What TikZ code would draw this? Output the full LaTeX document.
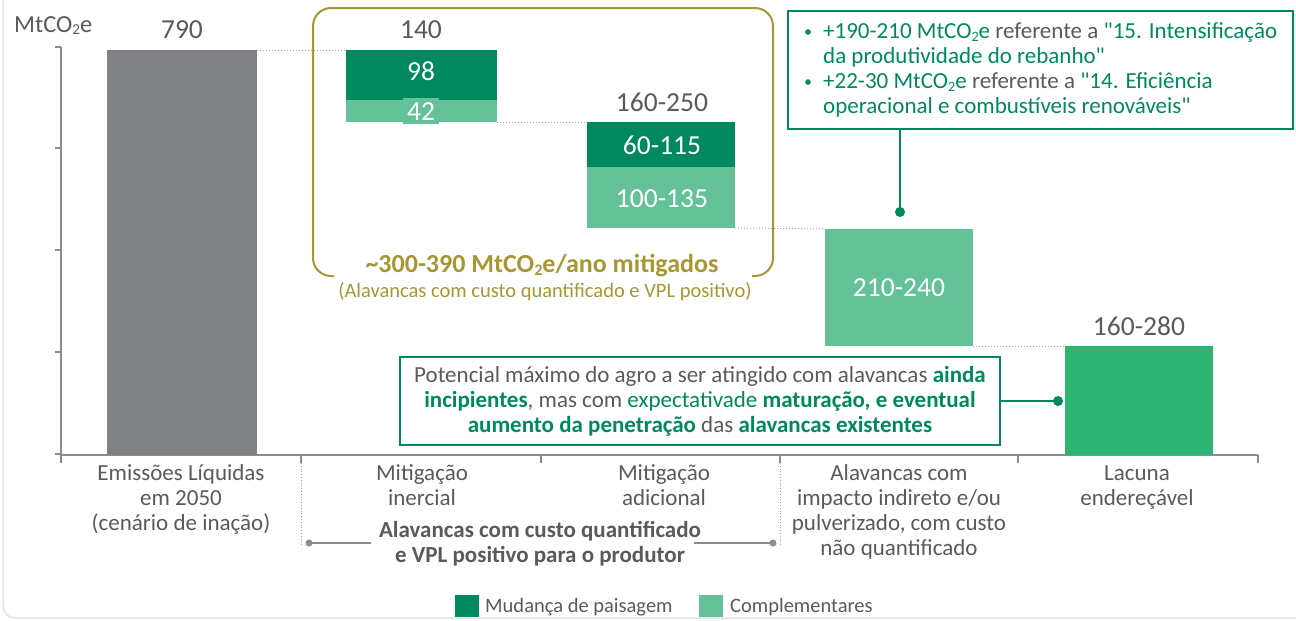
\documentclass[tikz,border=0pt]{standalone}
\usepackage{fontspec}
\setmainfont{Carlito}[Ligatures=TeXOff]
\usepackage{graphicx}
\usetikzlibrary{calc}
\definecolor{dgreen}{HTML}{00895E}
\definecolor{lgreen}{HTML}{65C298}
\definecolor{bgreen}{HTML}{2DB473}
\definecolor{barGray}{HTML}{808184}
\definecolor{olive}{HTML}{A69634}
\definecolor{txt}{HTML}{5A5A5A}
\definecolor{axisgray}{HTML}{8C8C8C}
\definecolor{dotgray}{HTML}{A6A6A6}
\definecolor{framegray}{HTML}{E3E3E3}
\newcommand{\mysub}[1]{\raisebox{-0.12em}{\scalebox{0.62}{#1}}}
\newcommand{\coe}{MtCO\mysub{2}e}
\newcommand{\fs}[1]{\fontsize{#1}{25}\selectfont}
\newcommand{\tstr}{\rule{0pt}{20pt}}
\newcommand{\gb}[1]{\textbf{\color{dgreen}#1}}
\newcommand{\gt}[1]{{\color{txt}#1}}
\begin{document}
\begin{tikzpicture}[x=1pt,y=-1pt,
  barbox/.style={rectangle,inner sep=0,outer sep=0,draw=none,anchor=north west},
  val/.style={anchor=base,font=\fs{27.5},text=txt,inner sep=0},
  wval/.style={anchor=base,font=\fs{27.5},text=white,inner sep=0},
  dotline/.style={dotgray,line width=1pt,dotted},
  axisline/.style={axisgray,line width=1.6pt},
  catlabel/.style={anchor=north,align=center,inner sep=0,font=\fs{23},text=txt},
  greenline/.style={dgreen,line width=2.2pt},
  trline/.style={anchor=base west,inner sep=0,font=\fs{23},text=dgreen},
  brk/.style={axisgray,line width=1.6pt},
  legbox/.style={rectangle,inner sep=0,outer sep=0,anchor=north west,minimum width=24,minimum height=22},
  legtext/.style={anchor=base west,inner sep=0,font=\fs{20.5},text=txt}]
\useasboundingbox (0,0) rectangle (1296,621);
% outer frame
\draw[framegray,line width=1.5pt,rounded corners=12pt] (3,-5) -- (3,618) -- (1300,618);

% axes
\draw[axisline] (61,47) -- (61,455) -- (1258,455);
\foreach \yy in {47,148,250,352,454} \draw[axisline] (55,\yy) -- (61,\yy);
\foreach \xx in {61,301,541,780,1018,1258} \draw[axisline] (\xx,455) -- (\xx,463);

% unit
\node[anchor=base west,inner sep=0,font=\fs{24.5},text=txt] (unit) at (14,32) {\coe};

% bars
\node[barbox,fill=barGray,minimum width=150,minimum height=405] (b790) at (107,50) {};
\node[barbox,fill=dgreen,minimum width=151,minimum height=50] (b98) at (346,50) {};
\node[barbox,fill=lgreen,minimum width=151,minimum height=22] (b42) at (346,100) {};
\node[barbox,fill=dgreen,minimum width=148,minimum height=45] (b60) at (587,122) {};
\node[barbox,fill=lgreen,minimum width=148,minimum height=61] (b100) at (587,167) {};
\node[barbox,fill=lgreen,minimum width=148,minimum height=117] (b210) at (825,229) {};
\node[barbox,fill=bgreen,minimum width=148,minimum height=109] (b160) at (1065,346) {};

% dotted step connectors
\draw[dotline] (b790.north east) -- (b98.north west);
\draw[dotline] (b42.south east) -- (b60.north west);
\draw[dotline] (b100.south east) -- (b210.north west);
\draw[dotline] (b210.south east) -- (b160.north west);

% values
\node[val] (v790) at (182,38) {790};
\node[val] (v140) at (421,38) {140};
\node[wval] (v98) at (421,80) {98};
\node[wval,fill=lgreen,inner xsep=4pt,inner ysep=4pt] (v42) at (421,120) {42};
\node[val] (v160a) at (662,111) {160-250};
\node[wval] (v60) at (662,154) {60-115};
\node[wval] (v100) at (662,207) {100-135};
\node[wval] (v210) at (899,296) {210-240};
\node[val] (v160b) at (1139,335) {160-280};

% olive frame
\draw[olive,line width=2pt,rounded corners=18pt] (334,276) -- (313,276) -- (313,8) -- (773,8) -- (773,276) -- (752,276);
\node[anchor=base,inner sep=0,font=\bfseries\fs{26},text=olive] (ttl) at (542,272) {\textasciitilde300-390 \coe/ano mitigados};
\node[anchor=base,inner sep=0,font=\fs{20.5},text=olive] (sttl) at (545,297) {(Alavancas com custo quantificado e VPL positivo)};

% top-right callout
\node[draw=dgreen,line width=2.2pt,anchor=north west,minimum width=505,minimum height=118,inner sep=0] (trbox) at (787,10) {};
\fill[dgreen] (808,32) circle (2.8);
\fill[dgreen] (808,82) circle (2.8);
\node[trline] (tr1) at (823,38.5) {+190-210 \coe{} \gt{referente a} "15. Intensificação};
\node[trline] (tr2) at (823,63.5) {da produtividade do rebanho"};
\node[trline] (tr3) at (823,88.5) {+22-30 \coe{} \gt{referente a} "14. Eficiência};
\node[trline] (tr4) at (823,113.5) {operacional e combustíveis renováveis"};
\coordinate (trdot) at (900,212);
\draw[greenline] (trbox.south -| trdot) -- (trdot);
\fill[dgreen] (trdot) circle (5);

% bottom callout
\node[draw=dgreen,line width=2.2pt,minimum width=600,minimum height=88,inner sep=0,align=center,font=\fs{23},text=txt] (bbox) at (700,401)
  {Potencial máximo do agro a ser atingido com alavancas \gb{ainda}\\
   \gb{incipientes}, mas com {\color{dgreen}expectativade} \gb{maturação, e eventual}\\
   \gb{aumento da penetração} das \gb{alavancas existentes}};
\coordinate (bdot) at (1058,401);
\draw[greenline] (bbox.east) -- (bdot);
\fill[dgreen] (bdot) circle (5);

% category labels
\node[catlabel] (c1) at (181,460) {\tstr Emissões Líquidas\\em 2050\\(cenário de inação)};
\node[catlabel] (c2) at (422,460) {\tstr Mitigação\\inercial};
\node[catlabel] (c3) at (664,460) {\tstr Mitigação\\adicional};
\node[catlabel] (c4) at (899,460) {\tstr Alavancas com\\impacto indireto e/ou\\pulverizado, com custo\\não quantificado};
\node[catlabel] (c5) at (1137,460) {\tstr Lacuna\\endereçável};

% dotted separators
\draw[dotgray,line width=0.8pt,dotted] (301,463) -- (301,546);
\draw[dotgray,line width=0.8pt,dotted] (780,463) -- (780,546);

% bracket
\coordinate (bl) at (309,543);
\coordinate (bl2) at (371,543);
\coordinate (br) at (773,543);
\coordinate (br2) at (694,543);
\draw[brk] (bl) -- (bl2);
\draw[brk] (br2) -- (br);
\fill[axisgray] (bl) circle (3.5);
\fill[axisgray] (br) circle (3.5);
\node[catlabel,font=\bfseries\fs{23}] (brlab) at (540,517) {\tstr Alavancas com custo quantificado\\e VPL positivo para o produtor};

% legend
\node[legbox,fill=dgreen] (lg1) at (455,595) {};
\node[legtext] (lt1) at (485,612) {Mudança de paisagem};
\node[legbox,fill=lgreen] (lg2) at (699,595) {};
\node[legtext] (lt2) at (730,612) {Complementares};
\end{tikzpicture}
\end{document}
